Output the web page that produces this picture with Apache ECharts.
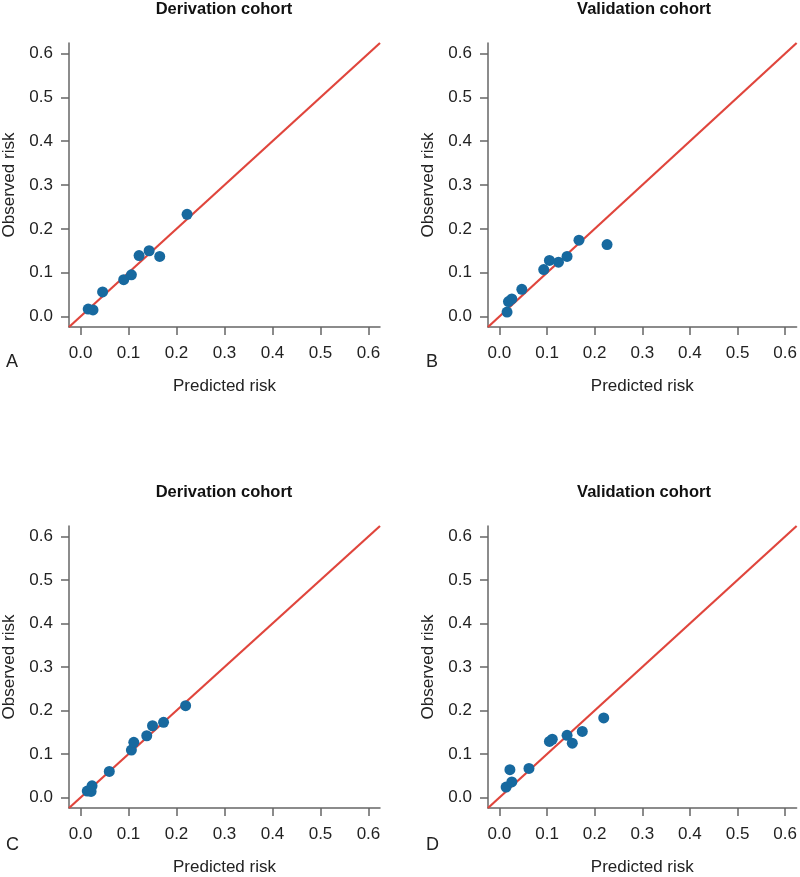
<!DOCTYPE html>
<html>
<head>
<meta charset="utf-8">
<script src="https://cdn.jsdelivr.net/npm/echarts@6/dist/echarts.min.js"></script>
<style>
html,body{margin:0;padding:0;background:#fff;}
#chart{width:800px;height:877px;}
</style>
</head>
<body>
<div id="chart"></div>
<script>
// ---- data ----
const panelTitles = ['Derivation cohort', 'Validation cohort', 'Derivation cohort', 'Validation cohort'];
const panelLetters = ['A', 'B', 'C', 'D'];
const xAxisName = 'Predicted risk';
const yAxisName = 'Observed risk';
const tickValues = [0, 0.1, 0.2, 0.3, 0.4, 0.5, 0.6];
const axisMin = -0.024;
const axisMax = 0.624;

// Panel A (derivation)
const predA = [0.016, 0.026, 0.046, 0.090, 0.106, 0.122, 0.143, 0.165, 0.222];
const obsA  = [0.017, 0.015, 0.056, 0.084, 0.095, 0.139, 0.150, 0.137, 0.233];
// Panel B (validation)
const predB = [0.016, 0.019, 0.026, 0.047, 0.093, 0.105, 0.124, 0.142, 0.167, 0.226];
const obsB  = [0.010, 0.034, 0.040, 0.062, 0.107, 0.128, 0.124, 0.137, 0.174, 0.164];
// Panel C (derivation)
const predC = [0.014, 0.022, 0.024, 0.060, 0.106, 0.111, 0.138, 0.150, 0.173, 0.219];
const obsC  = [0.015, 0.014, 0.027, 0.060, 0.109, 0.127, 0.142, 0.165, 0.173, 0.211];
// Panel D (validation)
const predD = [0.014, 0.026, 0.022, 0.062, 0.105, 0.111, 0.142, 0.153, 0.174, 0.219];
const obsD  = [0.024, 0.036, 0.064, 0.067, 0.129, 0.134, 0.143, 0.125, 0.152, 0.183];

const preds = [predA, predB, predC, predD];
const obss = [obsA, obsB, obsC, obsD];

// ---- layout ----
const grids = [
  {left: 68, top: 43, width: 312, height: 284},
  {left: 488, top: 43, width: 312, height: 284},
  {left: 68, top: 526, width: 312, height: 284},
  {left: 488, top: 526, width: 312, height: 284}
];

const axisColor = '#666';
const textColor = '#222';
const font = 'Liberation Sans, Arial, sans-serif';

function makeAxis(i, isX) {
  return {
    type: 'value',
    gridIndex: i,
    min: axisMin,
    max: axisMax,
    name: isX ? xAxisName : yAxisName,
    nameLocation: 'middle',
    nameGap: 51,
    nameTextStyle: {fontSize: 17, color: textColor, fontFamily: font},
    axisLine: {show: true, onZero: false, lineStyle: {color: axisColor, width: 1.5}},
    axisTick: {show: true, length: 8, customValues: tickValues, lineStyle: {color: axisColor, width: 1.5}},
    axisLabel: {
      show: true,
      customValues: tickValues,
      margin: isX ? 18 : 16,
      fontSize: 17,
      color: textColor,
      fontFamily: font,
      formatter: v => v.toFixed(1)
    },
    splitLine: {show: false}
  };
}

const option = {
  backgroundColor: '#fff',
  animation: false,
  title: grids.map((g, i) => ({
    text: panelTitles[i],
    left: g.left + 156,
    top: g.top - 42,
    textAlign: 'center',
    padding: 0,
    textStyle: {fontSize: 16.5, fontWeight: 'bold', color: '#111', fontFamily: font}
  })),
  grid: grids,
  xAxis: grids.map((g, i) => makeAxis(i, true)),
  yAxis: grids.map((g, i) => makeAxis(i, false)),
  series: [],
  graphic: grids.map((g, i) => ({
    type: 'text',
    left: g.left - 62,
    top: g.top + g.height + 26,
    style: {text: panelLetters[i], fontSize: 18, fill: textColor, fontFamily: font}
  }))
};

grids.forEach((g, i) => {
  option.series.push({
    type: 'line',
    xAxisIndex: i,
    yAxisIndex: i,
    data: [[axisMin, axisMin], [axisMax, axisMax]],
    symbol: 'none',
    lineStyle: {color: '#e0453c', width: 2.2},
    silent: true,
    z: 1
  });
  option.series.push({
    type: 'scatter',
    xAxisIndex: i,
    yAxisIndex: i,
    data: preds[i].map((p, k) => [p, obss[i][k]]),
    symbolSize: 11,
    itemStyle: {color: '#17699f', opacity: 1},
    z: 2
  });
});

const chart = echarts.init(document.getElementById('chart'), null, {renderer: 'canvas'});
chart.setOption(option);
</script>
</body>
</html>
